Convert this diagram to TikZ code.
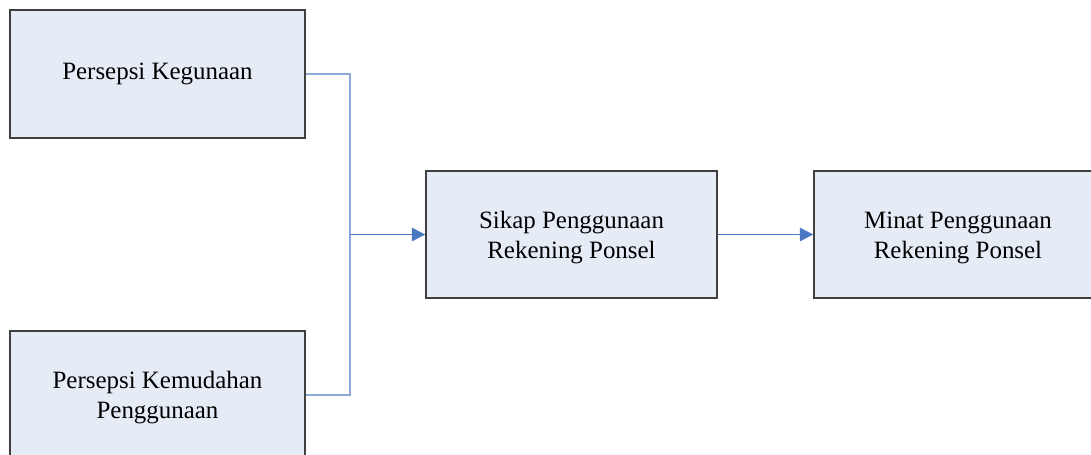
\documentclass[tikz,border=0pt]{standalone}
\usepackage{fontspec}
\setmainfont{Liberation Serif}
\usetikzlibrary{arrows.meta}
\definecolor{boxfill}{HTML}{E6ECF6}
\definecolor{boxline}{HTML}{404040}
\definecolor{linkline}{HTML}{8EAADB}
\definecolor{arrowblue}{HTML}{4A78C2}
% taller first line so two-line labels sit slightly below the box centre
\newcommand{\lowerstrut}{\rule{0pt}{17.5pt}}
\tikzset{
  factor/.style={draw=boxline, line width=1.1pt, fill=boxfill, align=center,
    inner sep=0pt, font=\fontsize{18.7}{22.5}\selectfont},
  link/.style={draw=linkline, line width=0.9pt},
  flow/.style={draw=arrowblue, line width=1pt,
    -{Triangle[length=10pt,width=10pt,fill=arrowblue]}},
}
\begin{document}
\begin{tikzpicture}[x=0.75pt,y=-0.75pt]
  \useasboundingbox (0,0) rectangle (1091,454);
  \clip (0,0) rectangle (1091,454);

  \node[factor, minimum width=221.25pt, minimum height=96pt] (pk) at (157.5,74) {Persepsi Kegunaan};
  \node[factor, minimum width=221.25pt, minimum height=96pt] (pm) at (157.5,395) {\lowerstrut Persepsi Kemudahan\\Penggunaan};
  \node[factor, minimum width=218.25pt, minimum height=95.25pt] (sp) at (571.5,234.5) {\lowerstrut Sikap Penggunaan\\Rekening Ponsel};
  \node[factor, minimum width=216pt, minimum height=95.25pt] (mp) at (958,234.5) {\lowerstrut Minat Penggunaan\\Rekening Ponsel};

  \coordinate (j) at (350,234.5);
  \draw[link] (pk.east) -| (j);
  \draw[link] (pm.east) -| (j);
  \draw[flow] (j) -- (sp.west);
  \draw[flow] (sp.east) -- (mp.west);
\end{tikzpicture}
\end{document}
